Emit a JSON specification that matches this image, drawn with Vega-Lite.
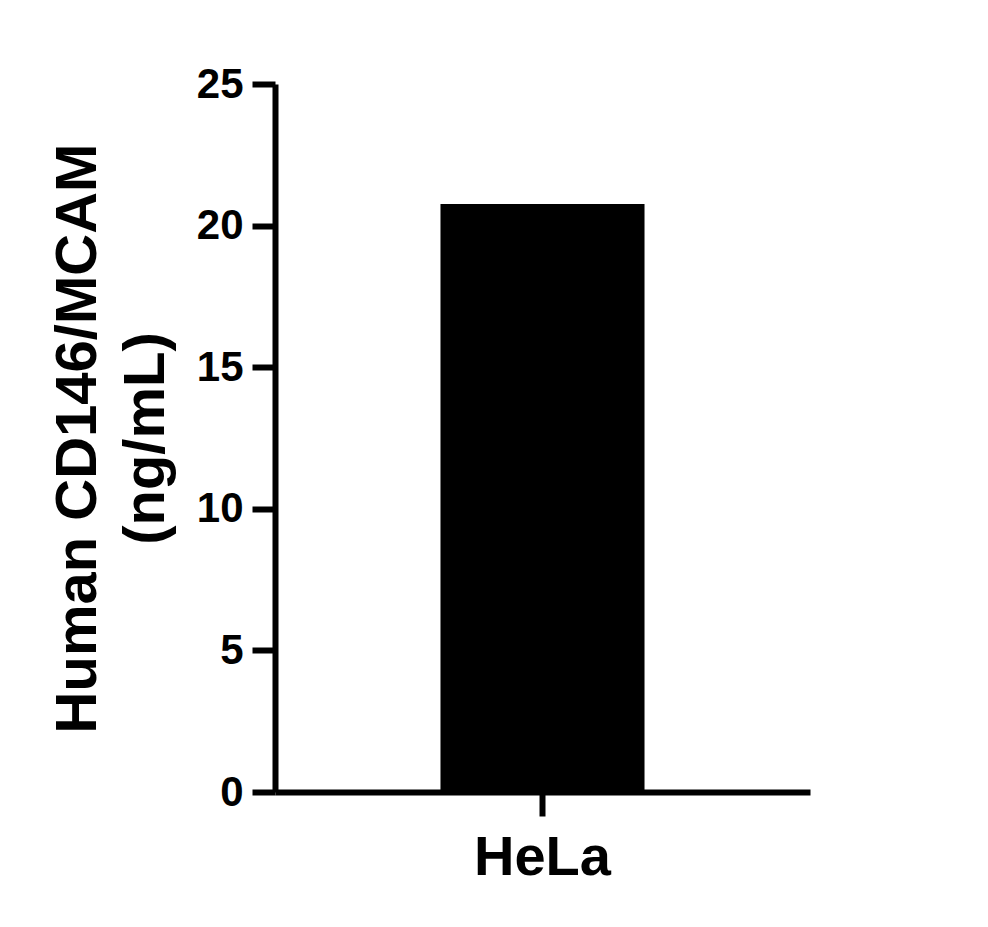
{
  "$schema": "https://vega.github.io/schema/vega-lite/v6.json",
  "autosize": {"type": "none"},
  "padding": {"left": 275, "top": 84, "right": 178, "bottom": 135},
  "width": 535,
  "height": 708,
  "background": "white",
  "config": {
    "view": {"stroke": null},
    "font": "Liberation Sans"
  },
  "data": {"values": [{"cell_line": "HeLa", "concentration": 20.76}]},
  "mark": {"type": "bar", "color": "black"},
  "encoding": {
    "x": {
      "field": "cell_line",
      "type": "nominal",
      "scale": {"paddingInner": 0, "paddingOuter": 0.811},
      "axis": {
        "title": null,
        "labelAngle": 0,
        "labelFont": "Liberation Sans",
        "labelFontWeight": "bold",
        "labelFontSize": 56,
        "labelColor": "black",
        "labelPadding": 14,
        "domainColor": "black",
        "domainWidth": 6,
        "tickColor": "black",
        "tickWidth": 6,
        "tickSize": 24
      }
    },
    "y": {
      "field": "concentration",
      "type": "quantitative",
      "scale": {"domain": [0, 25], "nice": false},
      "axis": {
        "title": ["Human CD146/MCAM", "(ng/mL)"],
        "titleFont": "Liberation Sans",
        "titleFontWeight": "bold",
        "titleFontSize": 58,
        "titleColor": "black",
        "titleAngle": -90,
        "titleBaseline": "top",
        "titleX": -226,
        "titleLineHeight": 68,
        "values": [0, 5, 10, 15, 20, 25],
        "grid": false,
        "labelFont": "Liberation Sans",
        "labelFontWeight": "bold",
        "labelFontSize": 42,
        "labelColor": "black",
        "labelPadding": 9,
        "domainColor": "black",
        "domainWidth": 6,
        "tickColor": "black",
        "tickWidth": 6,
        "tickSize": 23
      }
    }
  }
}
